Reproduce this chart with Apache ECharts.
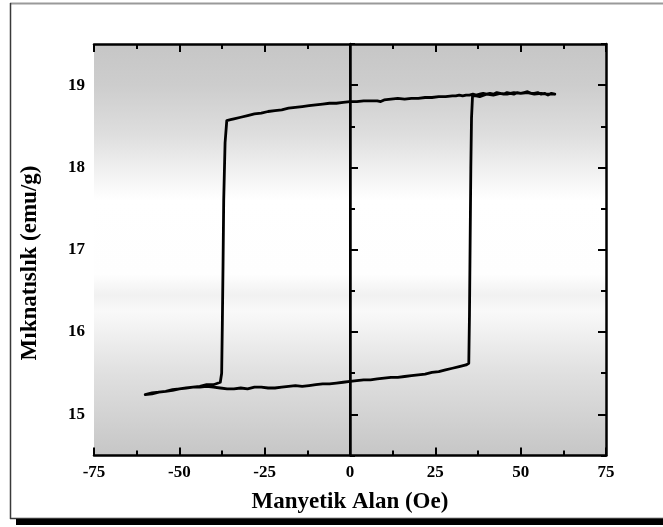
<!DOCTYPE html>
<html>
<head>
<meta charset="utf-8">
<title>Mıknatıslık — Manyetik Alan</title>
<script src="https://cdn.jsdelivr.net/npm/echarts@6/dist/echarts.min.js"></script>
<style>
  html, body { margin: 0; padding: 0; background: #ffffff; }
  #chart { width: 663px; height: 527px; }
</style>
</head>
<body>
<div id="chart"></div>
<script>
// Hysteresis loop: field sweep from +60 Oe down to -60 Oe, then back up.
const fieldDown = [60, 59, 58, 57, 56, 55, 54, 53, 52, 51, 50, 49, 48, 47, 46, 45, 44, 43, 42, 41,
  40, 39, 38, 37, 36, 35, 34, 33, 32, 31, 30, 28, 26, 24, 22, 20, 18, 16, 14, 12,
  10, 9, 8, 7, 6, 4, 2, 0, -2, -4, -6, -8, -10, -12, -14, -16, -18, -20, -22, -24,
  -26, -28, -30, -32, -34, -35, -36.1, -36.6, -37.0, -37.2, -37.4, -37.6, -38, -40, -42, -44,
  -46, -48, -50, -52, -54, -56, -58, -60];
const magDown = [18.89, 18.90, 18.88, 18.90, 18.89, 18.91, 18.90, 18.90, 18.92, 18.91, 18.90, 18.91, 18.89, 18.90, 18.91, 18.89, 18.90, 18.91, 18.89, 18.90,
  18.89, 18.90, 18.89, 18.88, 18.89, 18.88, 18.88, 18.87, 18.88, 18.87, 18.87, 18.86, 18.86, 18.85, 18.85, 18.84, 18.84, 18.83, 18.84, 18.83,
  18.82, 18.80, 18.81, 18.81, 18.81, 18.81, 18.80, 18.80, 18.79, 18.78, 18.78, 18.77, 18.76, 18.75, 18.74, 18.73, 18.72, 18.70, 18.69, 18.68,
  18.66, 18.65, 18.63, 18.61, 18.59, 18.58, 18.57, 18.30, 17.60, 16.80, 16.10, 15.50, 15.39, 15.36, 15.36, 15.34,
  15.33, 15.32, 15.31, 15.29, 15.28, 15.27, 15.25, 15.24];

const fieldUp = [-60, -58, -56, -54, -52, -50, -48, -46, -44, -42, -40, -38, -36, -34, -32, -30, -28, -26, -24, -22,
  -20, -18, -16, -14, -12, -10, -8, -6, -4, -2, 0, 2, 4, 6, 8, 10, 12, 14, 16, 18,
  20, 22, 24, 26, 28, 30, 32, 34, 34.8, 35.0, 35.2, 35.4, 35.6, 35.9, 37, 38, 40, 42, 44, 46,
  48, 50, 52, 54, 56, 58, 60];
const magUp = [15.25, 15.26, 15.27, 15.28, 15.30, 15.31, 15.32, 15.33, 15.33, 15.34, 15.33, 15.32, 15.31, 15.31, 15.32, 15.31, 15.33, 15.33, 15.32, 15.32,
  15.33, 15.34, 15.35, 15.34, 15.35, 15.36, 15.37, 15.37, 15.38, 15.39, 15.40, 15.41, 15.42, 15.42, 15.43, 15.44, 15.45, 15.45, 15.46, 15.47,
  15.48, 15.49, 15.51, 15.52, 15.54, 15.56, 15.58, 15.60, 15.62, 16.20, 17.10, 18.00, 18.60, 18.87, 18.87, 18.86, 18.89, 18.88, 18.90, 18.89,
  18.91, 18.90, 18.91, 18.89, 18.90, 18.89, 18.89];

const xTicks = [-75, -50, -25, 0, 25, 50, 75];
const yMajorTicks = [15, 16, 17, 18, 19];

const loop = [];
fieldDown.forEach((x, i) => loop.push([x, magDown[i]]));
fieldUp.forEach((x, i) => loop.push([x, magUp[i]]));

const labelFont = {
  fontFamily: '"Liberation Serif", "Times New Roman", serif',
  fontWeight: 'bold',
  fontSize: 17,
  color: '#000'
};
const frameLine = { show: true, lineStyle: { color: '#000', width: 2.5 } };

const xBase = {
  type: 'value', min: -75, max: 75, interval: 25,
  axisLine: frameLine,
  splitLine: { show: false },
  axisTick: { show: true, inside: true, length: 8, lineStyle: { color: '#000', width: 2 } },
  minorTick: { show: true, splitNumber: 2, length: 5, lineStyle: { color: '#000', width: 2 } }
};

function yMajor(pos, labels) {
  return {
    type: 'value', position: pos, min: 14.5, max: 19.5,
    axisLine: frameLine,
    splitLine: { show: false },
    axisTick: { show: true, inside: true, length: 8, customValues: yMajorTicks, lineStyle: { color: '#000', width: 2 } },
    axisLabel: labels ? Object.assign({ customValues: yMajorTicks, margin: 9 }, labelFont) : { show: false }
  };
}
function yMinor(pos) {
  return {
    type: 'value', position: pos, min: 14.5, max: 19.5, interval: 0.5,
    axisLine: { show: false },
    splitLine: { show: false },
    axisTick: { show: true, inside: true, length: 5, lineStyle: { color: '#000', width: 2 } },
    axisLabel: { show: false }
  };
}

const chart = echarts.init(document.getElementById('chart'), null, { renderer: 'canvas' });

chart.setOption({
  animation: false,
  backgroundColor: '#ffffff',
  grid: {
    left: 94, top: 44, right: 57, bottom: 71.5,
    show: true,
    borderWidth: 0,
    backgroundColor: {
      type: 'linear', x: 0, y: 0, x2: 0, y2: 1,
      colorStops: [
        { offset: 0.00, color: '#c6c6c6' },
        { offset: 0.10, color: '#cdcdcd' },
        { offset: 0.22, color: '#dedede' },
        { offset: 0.32, color: '#f3f3f3' },
        { offset: 0.38, color: '#ffffff' },
        { offset: 0.56, color: '#fefefe' },
        { offset: 0.61, color: '#f1f1f1' },
        { offset: 0.65, color: '#f9f9f9' },
        { offset: 0.80, color: '#e0e0e0' },
        { offset: 1.00, color: '#c6c6c6' }
      ]
    }
  },
  xAxis: [
    Object.assign({}, xBase, {
      position: 'bottom',
      axisLabel: Object.assign({ margin: 9, customValues: xTicks, formatter: v => String(v) }, labelFont)
    }),
    Object.assign({}, xBase, { position: 'top', axisLabel: { show: false } })
  ],
  yAxis: [yMajor('left', true), yMinor('left'), yMajor('right', false), yMinor('right')],
  series: [{
    type: 'line',
    data: loop,
    xAxisIndex: 0,
    yAxisIndex: 0,
    showSymbol: false,
    smooth: false,
    lineStyle: { color: '#000', width: 2.8, join: 'round', cap: 'round' },
    markLine: {
      silent: true,
      symbol: 'none',
      label: { show: false },
      lineStyle: { color: '#000', width: 2, type: 'solid' },
      data: [{ xAxis: 0 }]
    }
  }],
  graphic: [
    // page frame with drop shadow along the bottom
    { type: 'line', shape: { x1: 10, y1: 3.5, x2: 663, y2: 3.5 }, style: { stroke: '#9a9a9a', lineWidth: 2 } },
    { type: 'line', shape: { x1: 10.5, y1: 3, x2: 10.5, y2: 519 }, style: { stroke: '#3a3a3a', lineWidth: 1.5 } },
    { type: 'line', shape: { x1: 10, y1: 518.5, x2: 663, y2: 518.5 }, style: { stroke: '#3a3a3a', lineWidth: 1.5 } },
    { type: 'rect', shape: { x: 16, y: 519, width: 647, height: 6 }, style: { fill: '#000' } },
    // axis titles
    {
      type: 'text', x: 350, y: 502,
      style: {
        text: 'Manyetik Alan (Oe)', align: 'center', verticalAlign: 'middle',
        font: 'bold 23px "Liberation Serif", "Times New Roman", serif', fill: '#000'
      }
    },
    {
      type: 'text', x: 30, y: 263, rotation: Math.PI / 2,
      style: {
        text: 'Mıknatıslık (emu/g)', align: 'center', verticalAlign: 'middle',
        font: 'bold 23px "Liberation Serif", "Times New Roman", serif', fill: '#000'
      }
    }
  ]
});
</script>
</body>
</html>
